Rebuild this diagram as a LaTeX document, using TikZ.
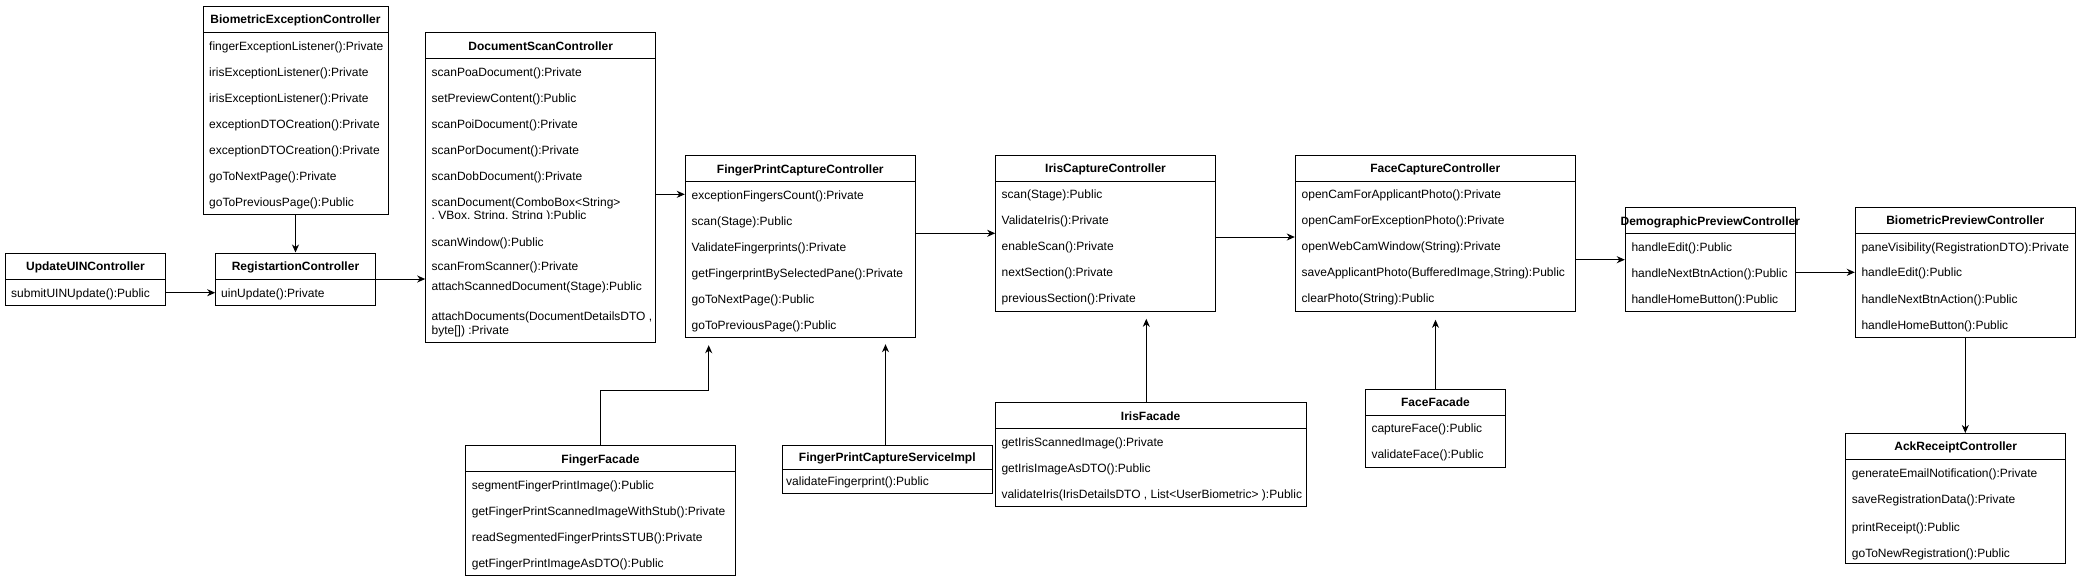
\documentclass[tikz,border=0pt]{standalone}
\usepackage{fontspec}
\setmainfont{Liberation Sans}
\usetikzlibrary{arrows.meta,fit}

\tikzset{
  clsbox/.style={draw, line width=1pt, inner sep=0pt, fit={#1}},
  ttl/.style={font=\fontsize{12}{14}\selectfont\bfseries, anchor=base, inner sep=0pt},
  rowtxt/.style={font=\fontsize{12}{14}\selectfont, anchor=base west, inner sep=0pt},
  arr/.style={draw, line width=1pt, -{Stealth[length=8pt,width=7pt,inset=2.5pt]}},
}

\newcommand\umlclass[7]{% id, L, T, R, H, B, title
  \node[clsbox={(#2,#3) (#4,#6)}] (#1) {};
  \draw[line width=1pt] (#2,#5) -- (#4,#5);
  \node[ttl] (#1-t) at ({(#2+#4)/2},{(#3+#5)/2+4.3}) {#7};
}
\newcommand\umlrow[4]{% id, x, center y, text
  \node[rowtxt] (#1) at (#2,{#3+4.3}) {#4};
}

\begin{document}
\begin{tikzpicture}[x=1pt,y=-1pt]
\fill[white] (0,0) rectangle (2081,584);
\useasboundingbox (0,0) rectangle (2081,584);

% BiometricExceptionController
\umlclass{bec}{203}{6}{388}{32}{214}{BiometricExceptionController}
\umlrow{bec-1}{209}{45.7}{fingerExceptionListener():Private}
\umlrow{bec-2}{209}{71.7}{irisExceptionListener():Private}
\umlrow{bec-3}{209}{97.7}{irisExceptionListener():Private}
\umlrow{bec-4}{209}{123.7}{exceptionDTOCreation():Private}
\umlrow{bec-5}{209}{149.7}{exceptionDTOCreation():Private}
\umlrow{bec-6}{209}{175.7}{goToNextPage():Private}
\umlrow{bec-7}{209}{201.7}{goToPreviousPage():Public}

% UpdateUINController
\umlclass{uuc}{5.7}{253}{165.3}{279}{305}{UpdateUINController}
\umlrow{uuc-1}{11}{292.7}{submitUINUpdate():Public}

% RegistartionController
\umlclass{rc}{215.7}{253}{375.3}{279}{305}{RegistartionController}
\umlrow{rc-1}{221}{292.7}{uinUpdate():Private}

% DocumentScanController
\umlclass{dsc}{425.7}{32.7}{655.7}{58.7}{342.3}{DocumentScanController}
\umlrow{dsc-1}{431.5}{71.7}{scanPoaDocument():Private}
\umlrow{dsc-2}{431.5}{97.7}{setPreviewContent():Public}
\umlrow{dsc-3}{431.5}{123.7}{scanPoiDocument():Private}
\umlrow{dsc-4}{431.5}{149.7}{scanPorDocument():Private}
\umlrow{dsc-5}{431.5}{175.7}{scanDobDocument():Private}
\umlrow{dsc-6}{431.5}{201.7}{scanDocument(ComboBox<String>}
\begin{scope}
  \clip (426,206) rectangle (655,218.8);
  \umlrow{dsc-6b}{431.5}{215}{, VBox, String, String ):Public}
\end{scope}
\umlrow{dsc-7}{431.5}{241.7}{scanWindow():Public}
\umlrow{dsc-8}{431.5}{265.7}{scanFromScanner():Private}
\umlrow{dsc-9}{431.5}{285.7}{attachScannedDocument(Stage):Public}
\umlrow{dsc-10}{431.5}{315.7}{attachDocuments(DocumentDetailsDTO ,}
\umlrow{dsc-10b}{431.5}{329.7}{byte[]) :Private}

% FingerPrintCaptureController
\umlclass{fpcc}{685.3}{155.7}{915.3}{181.7}{337.7}{FingerPrintCaptureController}
\umlrow{fpcc-1}{691.5}{194.7}{exceptionFingersCount():Private}
\umlrow{fpcc-2}{691.5}{220.7}{scan(Stage):Public}
\umlrow{fpcc-3}{691.5}{246.7}{ValidateFingerprints():Private}
\umlrow{fpcc-4}{691.5}{272.7}{getFingerprintBySelectedPane():Private}
\umlrow{fpcc-5}{691.5}{298.7}{goToNextPage():Public}
\umlrow{fpcc-6}{691.5}{324.7}{goToPreviousPage():Public}

% IrisCaptureController
\umlclass{icc}{995.7}{155.3}{1215.3}{181.3}{311.3}{IrisCaptureController}
\umlrow{icc-1}{1001.5}{194.3}{scan(Stage):Public}
\umlrow{icc-2}{1001.5}{220.3}{ValidateIris():Private}
\umlrow{icc-3}{1001.5}{246.3}{enableScan():Private}
\umlrow{icc-4}{1001.5}{272.3}{nextSection():Private}
\umlrow{icc-5}{1001.5}{298.3}{previousSection():Private}

% FaceCaptureController
\umlclass{fcc}{1295.3}{155.3}{1575.3}{181.3}{311.3}{FaceCaptureController}
\umlrow{fcc-1}{1301.5}{194.3}{openCamForApplicantPhoto():Private}
\umlrow{fcc-2}{1301.5}{220.3}{openCamForExceptionPhoto():Private}
\umlrow{fcc-3}{1301.5}{246.3}{openWebCamWindow(String):Private}
\umlrow{fcc-4}{1301.5}{272.3}{saveApplicantPhoto(BufferedImage,String):Public}
\umlrow{fcc-5}{1301.5}{298.3}{clearPhoto(String):Public}

% DemographicPreviewController
\umlclass{demo}{1625.3}{207.7}{1795.3}{233.7}{311.7}{DemographicPreviewController}
\umlrow{demo-1}{1631.3}{246.7}{handleEdit():Public}
\umlrow{demo-2}{1631.3}{272.7}{handleNextBtnAction():Public}
\umlrow{demo-3}{1631.3}{298.7}{handleHomeButton():Public}

% BiometricPreviewController
\umlclass{bpc}{1855.3}{207.3}{2075.3}{233.3}{337.3}{BiometricPreviewController}
\umlrow{bpc-1}{1861.3}{246.8}{paneVisibility(RegistrationDTO):Private}
\umlrow{bpc-2}{1861.3}{272.3}{handleEdit():Public}
\umlrow{bpc-3}{1861.3}{299.5}{handleNextBtnAction():Public}
\umlrow{bpc-4}{1861.3}{325}{handleHomeButton():Public}

% AckReceiptController
\umlclass{arc}{1845.7}{433.5}{2065.7}{459.5}{563.5}{AckReceiptController}
\umlrow{arc-1}{1851.7}{472.7}{generateEmailNotification():Private}
\umlrow{arc-2}{1851.7}{499}{saveRegistrationData():Private}
\umlrow{arc-3}{1851.7}{527.3}{printReceipt():Public}
\umlrow{arc-4}{1851.7}{552.7}{goToNewRegistration():Public}

% FingerFacade
\umlclass{fingf}{465.7}{445.7}{735.3}{471.7}{575.7}{FingerFacade}
\umlrow{fingf-1}{471.7}{484.7}{segmentFingerPrintImage():Public}
\umlrow{fingf-2}{471.7}{510.7}{getFingerPrintScannedImageWithStub():Private}
\umlrow{fingf-3}{471.7}{536.7}{readSegmentedFingerPrintsSTUB():Private}
\umlrow{fingf-4}{471.7}{562.7}{getFingerPrintImageAsDTO():Public}

% FingerPrintCaptureServiceImpl
\umlclass{fpcsi}{782.3}{445.7}{992.3}{469.5}{493}{FingerPrintCaptureServiceImpl}
\umlrow{fpcsi-1}{786}{481}{validateFingerprint():Public}

% IrisFacade
\umlclass{irisf}{995.3}{402.7}{1306}{428.7}{506.7}{IrisFacade}
\umlrow{irisf-1}{1001.3}{441.7}{getIrisScannedImage():Private}
\umlrow{irisf-2}{1001.3}{467.7}{getIrisImageAsDTO():Public}
\umlrow{irisf-3}{1001.3}{493.7}{validateIris(IrisDetailsDTO , List<UserBiometric> ):Public}

% FaceFacade
\umlclass{facef}{1365.7}{389.3}{1505.3}{415.3}{467.3}{FaceFacade}
\umlrow{facef-1}{1371.3}{428.3}{captureFace():Public}
\umlrow{facef-2}{1371.3}{454.3}{validateFace():Public}

% connectors
\coordinate (yb) at (0,292.7);
\coordinate (yd) at (0,194.3);
\coordinate (yf) at (0,237);
\coordinate (j1) at (708.7,390.7);
\coordinate (xk) at (885.5,0);
\coordinate (xl) at (1146.3,0);

\draw[arr] (bec.south) -- (rc.north);
\draw[arr] (uuc.east |- yb) -- (rc.west |- yb);
\draw[arr] (rc.east) -- (rc.east -| dsc.west);
\draw[arr] (dsc.east |- yd) -- (fpcc.west |- yd);
\draw[arr] (fpcc.east |- icc.west) -- (icc.west);
\draw[arr] (icc.east |- yf) -- (fcc.west |- yf);
\draw[arr] (fcc.east |- demo.west) -- (demo.west);
\draw[arr] (demo.east |- bpc.west) -- (bpc.west);
\draw[arr] (bpc.south) -- (bpc.south |- arc.north);
\draw[arr, shorten >=7pt] (fingf.north) |- (j1) -- (j1 |- fpcc.south);
\draw[arr, shorten >=6pt] (xk |- fpcsi.north) -- (xk |- fpcc.south);
\draw[arr, shorten >=7pt] (xl |- irisf.north) -- (xl |- icc.south);
\draw[arr, shorten >=8pt] (facef.north) -- (facef.north |- fcc.south);
\end{tikzpicture}
\end{document}
